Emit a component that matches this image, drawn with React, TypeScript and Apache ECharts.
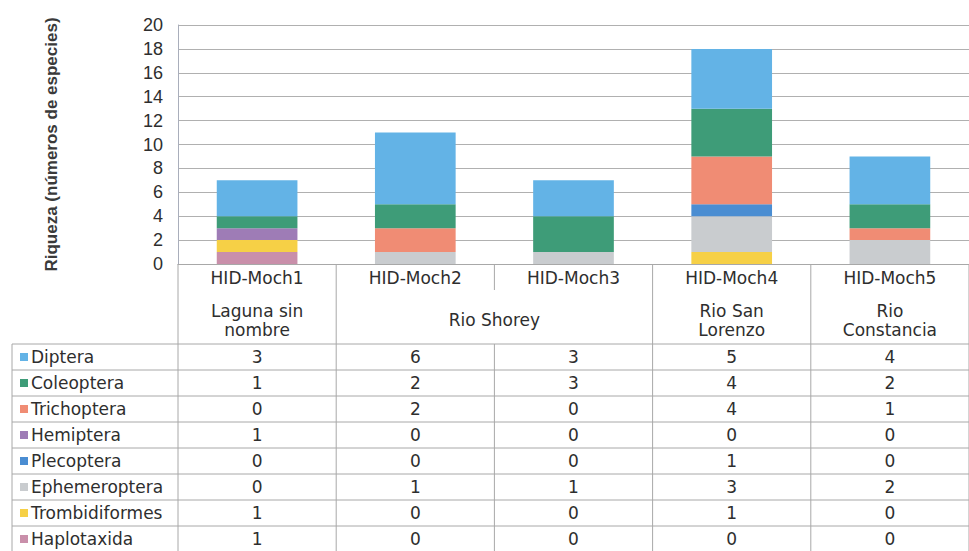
import React, { useEffect, useRef } from "react";
import * as echarts from "echarts";

const categories = ["HID-Moch1", "HID-Moch2", "HID-Moch3", "HID-Moch4", "HID-Moch5"];
const locations = [
  { label: "Laguna sin\nnombre", from: 0, to: 0 },
  { label: "Rio Shorey", from: 1, to: 2 },
  { label: "Rio San\nLorenzo", from: 3, to: 3 },
  { label: "Rio\nConstancia", from: 4, to: 4 },
];

const diptera = [3, 6, 3, 5, 4];
const coleoptera = [1, 2, 3, 4, 2];
const trichoptera = [0, 2, 0, 4, 1];
const hemiptera = [1, 0, 0, 0, 0];
const plecoptera = [0, 0, 0, 1, 0];
const ephemeroptera = [0, 1, 1, 3, 2];
const trombidiformes = [1, 0, 0, 1, 0];
const haplotaxida = [1, 0, 0, 0, 0];

const yTicks = { min: 0, max: 20, interval: 2 };
const yTitle = "Riqueza (números de especies)";

// table order (top to bottom)
const taxa = [
  { name: "Diptera", data: diptera, color: "#63B3E6" },
  { name: "Coleoptera", data: coleoptera, color: "#3E9C78" },
  { name: "Trichoptera", data: trichoptera, color: "#F08C74" },
  { name: "Hemiptera", data: hemiptera, color: "#9E7CB6" },
  { name: "Plecoptera", data: plecoptera, color: "#4A8DD2" },
  { name: "Ephemeroptera", data: ephemeroptera, color: "#C9CCCF" },
  { name: "Trombidiformes", data: trombidiformes, color: "#F6D046" },
  { name: "Haplotaxida", data: haplotaxida, color: "#C98FAA" },
];

const FONT = "'DejaVu Sans', 'Liberation Sans', Arial, sans-serif";
const TEXT = "#2e2e2e";
const LINE = "#a8a8a8";

export default function App() {
  const ref = useRef<HTMLDivElement>(null);
  useEffect(() => {
    if (!ref.current) return;
    const chart = echarts.init(ref.current, null, { renderer: "svg" });
    const gridLeft = 178;
    const gridTop = 25;
    const gridWidth = 805;
    const gridHeight = 239;
    const series = [...taxa].reverse().map((t) => ({
      name: t.name,
      type: "bar",
      stack: "total",
      data: t.data,
      barWidth: "51%",
      itemStyle: { color: t.color },
    }));
    chart.setOption({
      animation: false,
      backgroundColor: "#ffffff",
      textStyle: { fontFamily: FONT },
      grid: { left: gridLeft, top: gridTop, width: gridWidth, height: gridHeight, containLabel: false },
      xAxis: {
        type: "category",
        data: categories,
        axisLine: { show: true, lineStyle: { color: LINE } },
        axisTick: { show: false },
        axisLabel: { show: false },
      },
      yAxis: {
        type: "value",
        min: yTicks.min,
        max: yTicks.max,
        interval: yTicks.interval,
        name: yTitle,
        nameLocation: "middle",
        nameGap: 118,
        nameTextStyle: {
          fontFamily: "'Liberation Sans', Arial, sans-serif",
          fontSize: 17,
          fontWeight: "bold",
          color: "#3a3a3a",
        },
        axisLine: { show: true, lineStyle: { color: "#a9aebb" } },
        axisTick: { show: false },
        axisLabel: {
          fontFamily: "'Liberation Sans', Arial, sans-serif",
          fontSize: 18,
          color: TEXT,
          margin: 15,
        },
        splitLine: { show: true, lineStyle: { color: "#b0b0b0", width: 1 } },
      },
      series,
    });

    const cx = categories.map((c) => chart.convertToPixel({ xAxisIndex: 0 }, c) as number);
    const band = cx.length > 1 ? cx[1] - cx[0] : gridWidth;
    const bounds = [cx[0] - band / 2, ...cx.map((x) => x + band / 2)];
    const axisY = gridTop + gridHeight;
    const headRow1Bottom = 290;
    const dataTop = 344;
    const rowH = 26;
    const legendLeft = 12;
    const bottom = dataTop + rowH * taxa.length;
    const W = 969;
    const fs = 17;

    const g: any[] = [];
    const line = (x1: number, y1: number, x2: number, y2: number) =>
      g.push({
        type: "line",
        shape: { x1, y1, x2, y2 },
        style: { stroke: LINE, lineWidth: 1 },
        silent: true,
      });

    // vertical lines
    bounds.forEach((x, i) => {
      if (i === 2) {
        line(x, axisY, x, headRow1Bottom);
        line(x, dataTop, x, bottom);
      } else {
        line(x, axisY, x, bottom);
      }
    });
    line(legendLeft, dataTop, legendLeft, bottom);
    // horizontal lines
    for (let k = 0; k <= taxa.length; k++) {
      line(legendLeft, dataTop + k * rowH, W, dataTop + k * rowH);
    }

    // header row 1
    categories.forEach((c, i) =>
      g.push({
        type: "text",
        x: cx[i],
        y: 278,
        style: { text: c, fill: TEXT, font: `${fs}px ${FONT}`, align: "center", verticalAlign: "middle" },
        silent: true,
      })
    );
    // header row 2
    locations.forEach((l) =>
      g.push({
        type: "text",
        x: (cx[l.from] + cx[l.to]) / 2,
        y: 320,
        style: {
          text: l.label,
          fill: TEXT,
          font: `${fs}px ${FONT}`,
          align: "center",
          verticalAlign: "middle",
          lineHeight: 19,
        },
        silent: true,
      })
    );
    // data rows
    taxa.forEach((t, r) => {
      const yc = dataTop + r * rowH + rowH / 2;
      g.push({
        type: "rect",
        shape: { x: 20, y: yc - 4, width: 8, height: 8 },
        style: { fill: t.color },
        silent: true,
      });
      g.push({
        type: "text",
        x: 31,
        y: yc,
        style: { text: t.name, fill: TEXT, font: `${fs}px ${FONT}`, align: "left", verticalAlign: "middle" },
        silent: true,
      });
      t.data.forEach((v, i) =>
        g.push({
          type: "text",
          x: cx[i],
          y: yc,
          style: { text: String(v), fill: TEXT, font: `${fs}px ${FONT}`, align: "center", verticalAlign: "middle" },
          silent: true,
        })
      );
    });

    chart.setOption({ graphic: g });
    return () => chart.dispose();
  }, []);
  return (
    <div
      ref={ref}
      style={{ position: "fixed", left: 0, top: 0, width: 969, height: 551, background: "#fff" }}
    />
  );
}
